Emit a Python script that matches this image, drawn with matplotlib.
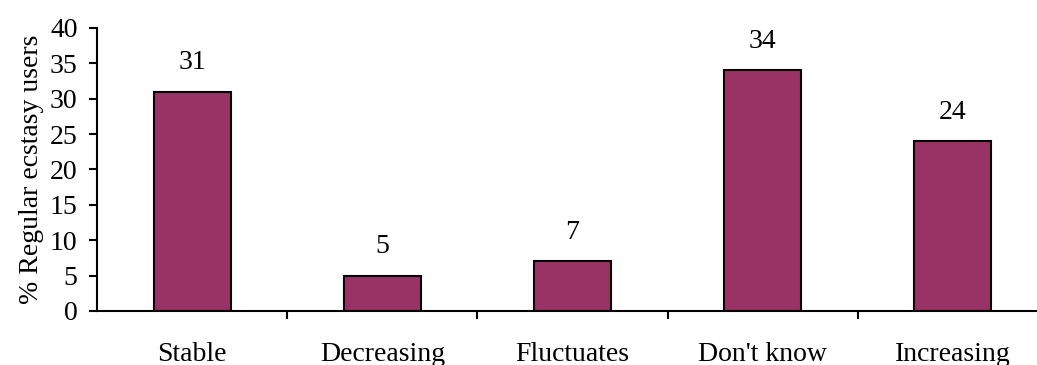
import matplotlib
matplotlib.use("Agg")
import matplotlib.pyplot as plt

categories = ["Stable", "Decreasing", "Fluctuates", "Don't know", "Increasing"]
values = [31, 5, 7, 34, 24]
yticks = [0, 5, 10, 15, 20, 25, 30, 35, 40]

plt.rcParams['font.family'] = ['Liberation Serif', 'DejaVu Serif']

W, H = 1037, 365
fig = plt.figure(figsize=(W / 100, H / 100), dpi=100)
left, right = 97, 1048
bottom, top = 311, 28
ax = fig.add_axes([left / W, (H - bottom) / H, (right - left) / W, (bottom - top) / H])

x = list(range(len(categories)))
bars = ax.bar(x, values, width=0.405, color="#993366", edgecolor="black", linewidth=1.5, zorder=2)

fs = 20
for xi, v in zip(x, values):
    ax.annotate(str(v), (xi, v), xytext=(0, 21), textcoords="offset points",
                ha="center", va="center", fontsize=fs)

ax.set_xlim(-0.5, len(categories) - 0.5)
ax.set_ylim(0, 40)
ax.set_yticks(yticks)
ax.set_yticklabels([str(t) for t in yticks], fontsize=fs)

ax.set_xticks([i + 0.5 for i in range(len(categories) - 1)])
ax.set_xticklabels([])
ax.set_xticks(x, minor=True)
ax.set_xticklabels(categories, minor=True, fontsize=fs)
ax.tick_params(axis='x', which='minor', length=0, pad=22)
ax.tick_params(axis='x', which='major', length=6, width=1.5, direction='out')
ax.tick_params(axis='y', length=6, width=1.5, direction='out', pad=8)

ax.spines['top'].set_visible(False)
ax.spines['right'].set_visible(False)
ax.spines['left'].set_linewidth(1.5)
ax.spines['bottom'].set_linewidth(1.5)

ax.set_ylabel("% Regular ecstasy users", fontsize=fs, labelpad=4)

fig.savefig("out.png", dpi=100)
